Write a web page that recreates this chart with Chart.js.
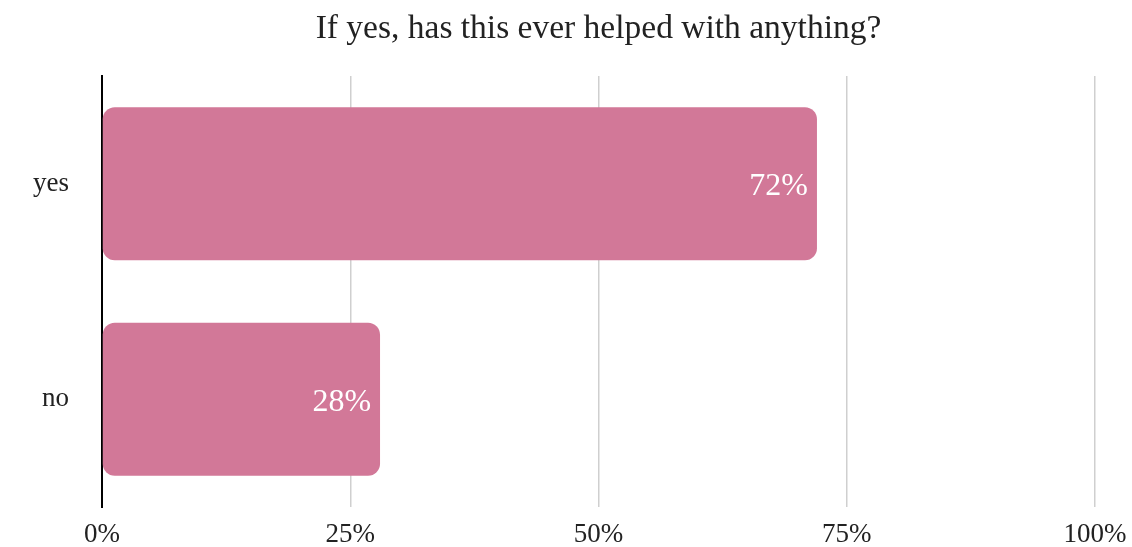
<!DOCTYPE html>
<html>
<head>
<meta charset="utf-8">
<script src="https://cdn.jsdelivr.net/npm/chart.js@4/dist/chart.umd.min.js"></script>
<style>
  html, body { margin: 0; padding: 0; background: #ffffff; }
  #wrap { width: 1132px; height: 547px; }
</style>
</head>
<body>
<div id="wrap"><canvas id="c" width="1132" height="547"></canvas></div>
<script>
// Survey answers and their share of respondents (percent)
const categories = ['yes', 'no'];
const shares = [72, 28];
const tickValues = [0, 25, 50, 75, 100];
const chartTitle = 'If yes, has this ever helped with anything?';

const SERIF = '"Liberation Serif", "Times New Roman", serif';
const INK = '#222222';

// Writes each bar's percentage inside its right end
const barValueLabels = {
  id: 'barValueLabels',
  afterDatasetsDraw(chart) {
    const ctx = chart.ctx;
    const meta = chart.getDatasetMeta(0);
    ctx.save();
    ctx.font = '32px ' + SERIF;
    ctx.fillStyle = '#ffffff';
    ctx.textAlign = 'right';
    ctx.textBaseline = 'middle';
    meta.data.forEach((bar, i) => {
      ctx.fillText(shares[i] + '%', bar.x - 9, bar.y + 3);
    });
    ctx.restore();
  }
};

// Title centred over the plot area
const plotTitle = {
  id: 'plotTitle',
  afterDraw(chart) {
    const ctx = chart.ctx;
    const area = chart.chartArea;
    ctx.save();
    ctx.font = '33.5px ' + SERIF;
    ctx.fillStyle = INK;
    ctx.textAlign = 'center';
    ctx.textBaseline = 'alphabetic';
    ctx.fillText(chartTitle, (area.left + area.right) / 2, 38);
    ctx.restore();
  }
};

new Chart(document.getElementById('c'), {
  type: 'bar',
  data: {
    labels: categories,
    datasets: [{
      data: shares,
      backgroundColor: '#D27898',
      borderWidth: 0,
      borderRadius: 12,
      borderSkipped: false,
      barPercentage: 0.71,
      categoryPercentage: 1.0
    }]
  },
  options: {
    indexAxis: 'y',
    responsive: false,
    animation: false,
    devicePixelRatio: 1,
    layout: { padding: { left: 0, right: 37, top: 76, bottom: 0 } },
    plugins: {
      legend: { display: false },
      tooltip: { enabled: false },
      title: { display: false }
    },
    scales: {
      x: {
        min: 0,
        max: 100,
        afterBuildTicks(scale) {
          scale.ticks = tickValues.map(v => ({ value: v }));
        },
        afterFit(scale) {
          scale.height = 40;
          // end labels fit inside the outer margins already
          scale.paddingLeft = 0;
          scale.paddingRight = 0;
        },
        border: { display: false },
        grid: {
          drawTicks: false,
          color: ctx => (ctx.tick && ctx.tick.value === 0) ? 'rgba(0,0,0,0)' : '#cfcfcf',
          lineWidth: 1.5
        },
        ticks: {
          padding: 12,
          color: INK,
          font: { family: SERIF, size: 27 },
          callback: v => v + '%'
        }
      },
      y: {
        afterFit(scale) {
          scale.width = 102;
          // category labels sit at band centres, so no vertical overhang is needed
          scale.paddingTop = 0;
          scale.paddingBottom = 0;
        },
        border: { display: true, color: '#000000', width: 2 },
        grid: { display: false, drawTicks: false },
        ticks: {
          padding: 33,
          color: INK,
          font: { family: SERIF, size: 27 }
        }
      }
    }
  },
  plugins: [barValueLabels, plotTitle]
});
</script>
</body>
</html>
